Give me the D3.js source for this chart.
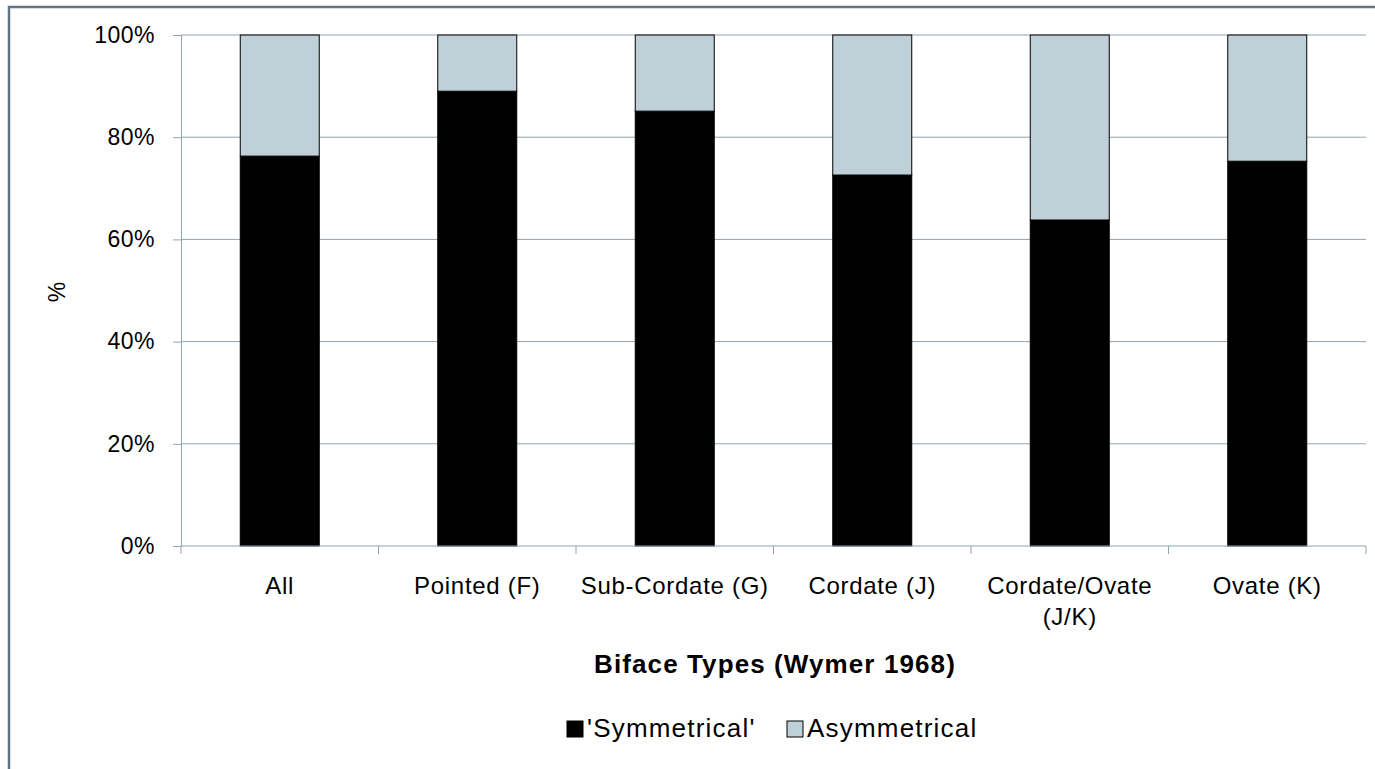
<!DOCTYPE html>
<html>
<head>
<meta charset="utf-8">
<script src="https://d3js.org/d3.v7.min.js"></script>
<style>
body { margin: 0; background: #fff; }
text { font-family: "Liberation Sans", Arial, sans-serif; fill: #000; }
</style>
</head>
<body>
<svg width="1375" height="769"></svg>
<script>
const categories = ['All', 'Pointed (F)', 'Sub-Cordate (G)', 'Cordate (J)', 'Cordate/Ovate\n(J/K)', 'Ovate (K)'];
const symmetrical = [76.3, 89.0, 85.1, 72.6, 63.8, 75.3];
const asymmetrical = symmetrical.map(v => 100 - v);
const seriesNames = ["'Symmetrical'", 'Asymmetrical'];
const seriesColors = ['#000000', '#bfd0d8'];
const yTicks = [0, 20, 40, 60, 80, 100];

const svg = d3.select('svg');
const W = 1375, H = 769;
const gridColor = '#8fa5af';

// outer frame
svg.append('rect').attr('x', 9).attr('y', 7).attr('width', W + 10).attr('height', H + 10)
  .attr('fill', 'none').attr('stroke', '#5f7580').attr('stroke-width', 2.5);

const x = d3.scaleBand().domain(categories).range([181, 1366]).paddingInner(0.6).paddingOuter(0.3);
const y = d3.scaleLinear().domain([0, 100]).range([546, 35]);

// gridlines
svg.append('g').selectAll('line').data(yTicks.slice(1)).join('line')
  .attr('x1', 181).attr('x2', 1366)
  .attr('y1', d => y(d)).attr('y2', d => y(d))
  .attr('stroke', gridColor).attr('stroke-width', 1);

const stackData = categories.map((c, i) => ({cat: c, sym: symmetrical[i], asym: asymmetrical[i]}));
const stack = d3.stack().keys(['sym', 'asym'])(stackData);

svg.append('g').selectAll('g').data(stack).join('g')
  .attr('fill', (d, i) => seriesColors[i])
  .selectAll('rect').data(d => d).join('rect')
    .attr('x', d => x(d.data.cat))
    .attr('width', x.bandwidth())
    .attr('y', d => y(d[1]))
    .attr('height', d => y(d[0]) - y(d[1]))
    .attr('stroke', '#000').attr('stroke-width', 1);

// y axis
const yAxis = svg.append('g').attr('transform', 'translate(181,0)')
  .call(d3.axisLeft(y).tickValues(yTicks).tickFormat(d => d + '%').tickSize(8).tickPadding(18));
yAxis.select('.domain').attr('stroke', gridColor);
yAxis.selectAll('.tick line').attr('stroke', gridColor);
yAxis.selectAll('.tick text').attr('font-size', 23).attr('letter-spacing', 0.5)
  .attr('font-family', '"Liberation Sans", Arial, sans-serif');

// x axis
const xStep = (1366 - 181) / categories.length;
const xAxisG = svg.append('g');
xAxisG.append('line').attr('x1', 181).attr('x2', 1366).attr('y1', 546).attr('y2', 546)
  .attr('stroke', gridColor);
xAxisG.selectAll('line.tk').data(d3.range(categories.length + 1)).join('line')
  .attr('class', 'tk')
  .attr('x1', i => 181 + i * xStep).attr('x2', i => 181 + i * xStep)
  .attr('y1', 546).attr('y2', 554).attr('stroke', gridColor);
xAxisG.selectAll('text').data(categories).join('text')
  .attr('text-anchor', 'middle')
  .attr('font-size', 24).attr('letter-spacing', 0.7)
  .attr('transform', d => `translate(${x(d) + x.bandwidth() / 2},594)`)
  .each(function(d) {
    d.split('\n').forEach((line, j) => {
      d3.select(this).append('tspan').attr('x', 0).attr('dy', j === 0 ? 0 : 31).text(line);
    });
  });

// axis titles
svg.append('text').attr('transform', 'translate(65,292) rotate(-90)')
  .attr('text-anchor', 'middle').attr('font-size', 23).text('%');
svg.append('text').attr('x', 775).attr('y', 673).attr('text-anchor', 'middle')
  .attr('font-size', 26).attr('font-weight', 'bold').attr('letter-spacing', 1.1)
  .text('Biface Types (Wymer 1968)');

// legend
const legend = svg.append('g').attr('transform', 'translate(567,737)');
const legendX = [0, 220];
seriesNames.forEach((n, i) => {
  const g = legend.append('g').attr('transform', `translate(${legendX[i]},0)`);
  g.append('rect').attr('x', 0).attr('y', -16).attr('width', 16).attr('height', 16)
    .attr('fill', seriesColors[i]).attr('stroke', '#000').attr('stroke-width', 1);
  g.append('text').attr('x', 20).attr('y', 0).attr('font-size', 26).attr('letter-spacing', 1.2).text(n);
});
</script>
</body>
</html>
